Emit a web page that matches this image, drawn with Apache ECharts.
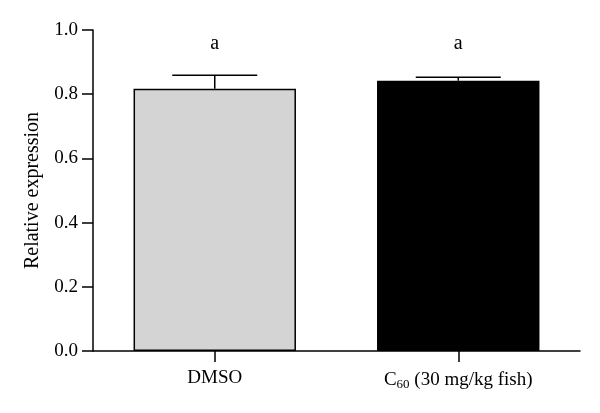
<!DOCTYPE html>
<html><head><meta charset="utf-8">
<script src="https://cdn.jsdelivr.net/npm/echarts@6/dist/echarts.min.js"></script>
<style>html,body{margin:0;padding:0;background:#fff}#c{width:600px;height:413px}</style>
</head><body><div id="c"></div>
<script>
const categories = ['DMSO', 'C60'];
const means = [0.817, 0.842];
const errors = [0.042, 0.011];
const letters = ['a', 'a'];
const yTicks = [0, 0.2, 0.4, 0.6, 0.8, 1.0];
const barColors = ['#d4d4d4', '#000000'];

const FONT = '"Liberation Serif", "DejaVu Serif", serif';
const chart = echarts.init(document.getElementById('c'), null, {renderer: 'canvas'});
chart.setOption({
  animation: false,
  grid: {left: 93, right: 20, top: 30, bottom: 62},
  xAxis: {
    type: 'category',
    data: categories,
    axisLine: {lineStyle: {color: '#000', width: 1.5}},
    axisTick: {show: true, alignWithLabel: true, length: 11, lineStyle: {color: '#000', width: 1.5}},
    axisLabel: {
      show: true, interval: 0, hideOverlap: false,
      margin: 18, color: '#000', fontFamily: FONT, fontSize: 19,
      formatter: function (v) { return v === 'C60' ? '{n|C}{s|60}{n| (30 mg/kg fish)}' : v; },
      rich: {
        n: {fontFamily: FONT, fontSize: 19, color: '#000'},
        s: {fontFamily: FONT, fontSize: 13, color: '#000', padding: [9, 0, 0, 0]}
      }
    }
  },
  yAxis: {
    type: 'value', min: 0, max: 1, interval: 0.2,
    name: 'Relative expression', nameLocation: 'middle', nameGap: 50,
    nameTextStyle: {fontFamily: FONT, fontSize: 20, color: '#000'},
    axisLine: {show: true, lineStyle: {color: '#000', width: 1.5}},
    axisTick: {show: true, length: 11, lineStyle: {color: '#000', width: 1.5}},
    axisLabel: {margin: 15, color: '#000', fontFamily: FONT, fontSize: 19,
      formatter: v => v.toFixed(1)},
    splitLine: {show: false}
  },
  series: [
    {
      type: 'bar',
      barWidth: '66.7%',
      data: means.map((m, i) => ({value: m, itemStyle: {color: barColors[i]}})),
      itemStyle: {borderColor: '#000', borderWidth: 1.5}
    },
    {
      type: 'custom',
      data: means.map((m, i) => [i, m, errors[i]]),
      z: 10,
      renderItem: function (params, api) {
        const i = api.value(0), m = api.value(1), e = api.value(2);
        const base = api.coord([i, m]);
        const top = api.coord([i, m + e]);
        const lab = api.coord([i, 0.956]);
        const half = 42.5;
        return {
          type: 'group',
          children: [
            {type: 'line', shape: {x1: base[0], y1: base[1], x2: top[0], y2: top[1]}, style: {stroke: '#000', lineWidth: 1.5}},
            {type: 'line', shape: {x1: top[0] - half, y1: top[1], x2: top[0] + half, y2: top[1]}, style: {stroke: '#000', lineWidth: 1.5}},
            {type: 'text', style: {x: lab[0], y: lab[1], text: letters[params.dataIndex], fill: '#000',
              font: '20px ' + FONT, align: 'center', verticalAlign: 'middle'}}
          ]
        };
      }
    }
  ]
});
</script></body></html>
